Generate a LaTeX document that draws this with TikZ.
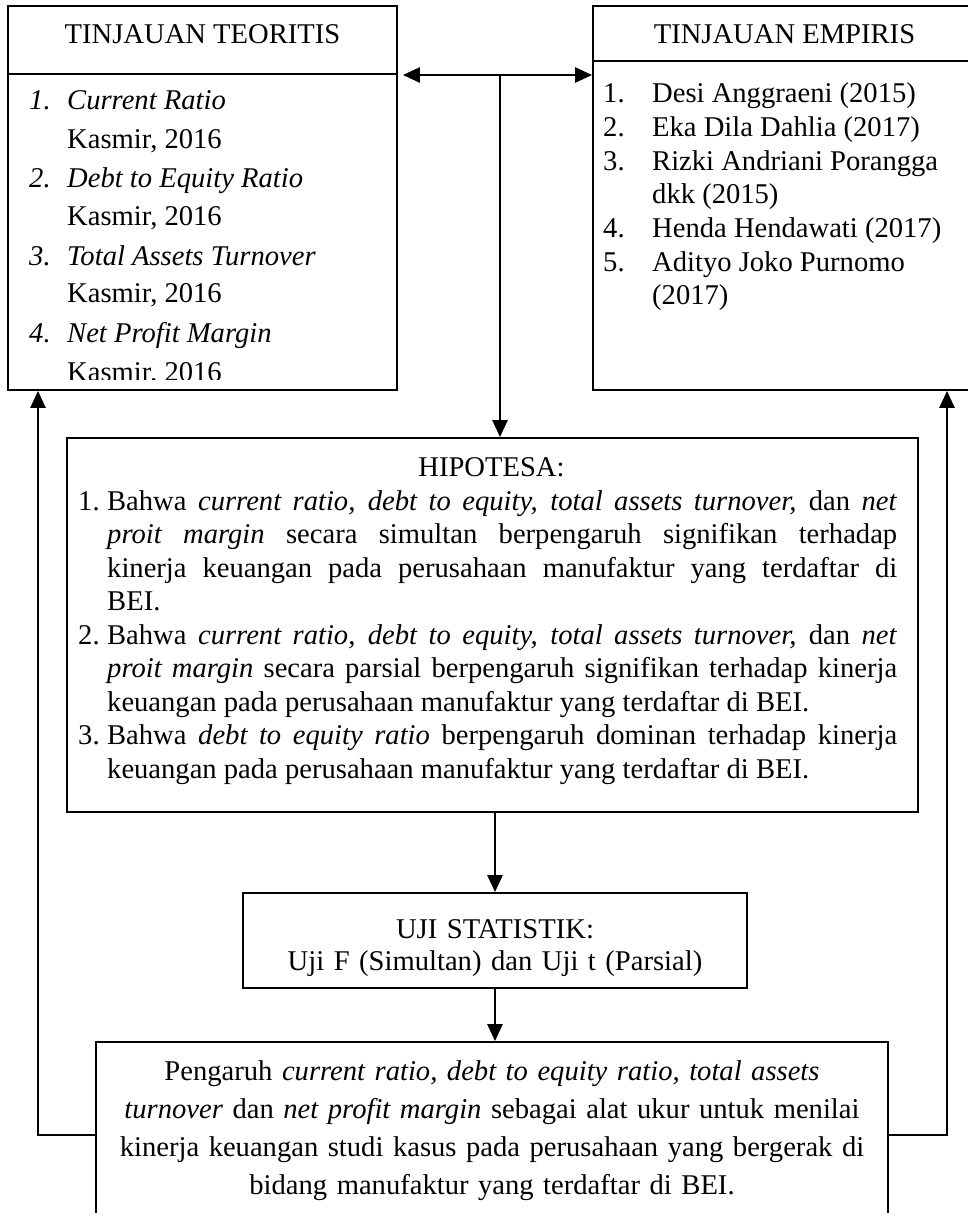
\documentclass[tikz,border=0pt]{standalone}
\usepackage{fontspec}
\setmainfont{Liberation Serif}
\usetikzlibrary{arrows.meta}
\begin{document}
\begin{tikzpicture}[x=1pt,y=-1pt,
  box/.style={draw, line width=1.8pt, inner sep=0pt},
  divider/.style={line width=1.8pt},
  conn/.style={line width=2.6pt, -{Triangle[length=17pt,width=15pt]}},
  conntwo/.style={line width=2.6pt, {Triangle[length=17pt,width=15pt]}-{Triangle[length=17pt,width=15pt]}},
  txt/.style={inner sep=0pt, font=\fontsize{28.6}{33.5}\selectfont},
  lst/.style={txt, anchor=base west}
]
\useasboundingbox[fill=white] (0,0) rectangle (967,1213);

% boxes
\node[box, minimum width=389pt, minimum height=384pt] (teo) at (202.5,198) {};
\node[box, minimum width=382pt, minimum height=384pt] (emp) at (784,198) {};
\node[box, minimum width=851pt, minimum height=374pt] (hip) at (492.5,625) {};
\node[box, minimum width=504pt, minimum height=95pt] (uji) at (495,940.5) {};
\node[box, minimum width=792pt, minimum height=183pt] (res) at (492,1133.5) {};

% header dividers
\coordinate (tdiv) at (0,74);
\coordinate (ediv) at (0,61);
\draw[divider] (teo.west |- tdiv) -- (teo.east |- tdiv);
\draw[divider] (emp.west |- ediv) -- (emp.east |- ediv);

% titles
\node[txt, anchor=base] (teoT) at (202.5,43) {TINJAUAN TEORITIS};
\node[txt, anchor=base] (empT) at (784.5,43) {TINJAUAN EMPIRIS};

% teoritis list (last line clipped by the box)
\begin{scope}
\clip (0,76) rectangle (967,379);
\node[lst] (tn1) at (29,109) {\itshape 1.};
\node[lst] (tl1) at (67,109) {\itshape Current Ratio};
\node[lst] (tk1) at (67,148) {Kasmir, 2016};
\node[lst] (tn2) at (29,187) {\itshape 2.};
\node[lst] (tl2) at (67,187) {\itshape Debt to Equity Ratio};
\node[lst] (tk2) at (67,225) {Kasmir, 2016};
\node[lst] (tn3) at (29,265) {\itshape 3.};
\node[lst] (tl3) at (67,265) {\itshape Total Assets Turnover};
\node[lst] (tk3) at (67,302) {Kasmir, 2016};
\node[lst] (tn4) at (29,342) {\itshape 4.};
\node[lst] (tl4) at (67,342) {\itshape Net Profit Margin};
\node[lst] (tk4) at (67,381) {Kasmir, 2016};
\end{scope}

% empiris list
\node[lst] (en1) at (603,102.7) {1.};
\node[lst] (el1) at (652,102.7) {Desi Anggraeni (2015)};
\node[lst] (en2) at (603,136.4) {2.};
\node[lst] (el2) at (652,136.4) {Eka Dila Dahlia (2017)};
\node[lst] (en3) at (603,170.1) {3.};
\node[lst] (el3) at (652,170.1) {Rizki Andriani Porangga};
\node[lst] (el3b) at (652,203.8) {dkk (2015)};
\node[lst] (en4) at (603,237.5) {4.};
\node[lst] (el4) at (652,237.5) {Henda Hendawati (2017)};
\node[lst] (en5) at (603,271.2) {5.};
\node[lst] (el5) at (652,271.2) {Adityo Joko Purnomo};
\node[lst] (el5b) at (652,304.9) {(2017)};

% hipotesa
\node[txt, anchor=base] (hipT) at (491.5,476) {HIPOTESA:};
\node[txt, anchor=base west, text width=819pt, align=justify] (hipB) at (78,510) {%
\hangindent=29pt\hangafter=1\noindent\makebox[29pt][l]{1.}Bahwa \textit{current ratio, debt to equity, total assets turnover,} dan \textit{net}\linebreak
\textit{proit margin} secara simultan berpengaruh signifikan terhadap\linebreak
kinerja keuangan pada perusahaan manufaktur yang terdaftar di\linebreak
BEI.\par
\hangindent=29pt\hangafter=1\noindent\makebox[29pt][l]{2.}Bahwa \textit{current ratio, debt to equity, total assets turnover,} dan \textit{net}\linebreak
\textit{proit margin} secara parsial berpengaruh signifikan terhadap kinerja\linebreak
keuangan pada perusahaan manufaktur yang terdaftar di BEI.\par
\hangindent=29pt\hangafter=1\noindent\makebox[29pt][l]{3.}Bahwa \textit{debt to equity ratio} berpengaruh dominan terhadap kinerja\linebreak
keuangan pada perusahaan manufaktur yang terdaftar di BEI.\par};

% uji statistik
\node[txt, anchor=base, text width=480pt, align=center, font=\fontsize{28.6}{32.5}\selectfont] (ujiT) at (495,938) {UJI STATISTIK:\\ Uji F (Simultan) dan Uji t (Parsial)};

% result
\node[txt, anchor=base, text width=780pt, align=center, font=\fontsize{28.6}{38.2}\selectfont] (resT) at (492,1080) {Pengaruh \textit{current ratio, debt to equity ratio, total assets}\\ \textit{turnover} dan \textit{net profit margin} sebagai alat ukur untuk menilai\\ kinerja keuangan studi kasus pada perusahaan yang bergerak di\\ bidang manufaktur yang terdaftar di BEI.};

% connectors
\coordinate (topmid) at (500,75);
\draw[conntwo] ([xshift=5pt]teo.east |- topmid) -- (emp.west |- topmid);
\draw[conn] (topmid) -- (hip.north -| topmid);
\draw[conn] (uji.north |- hip.south) -- (uji.north);
\draw[conn] (uji.south) -- (uji.south |- res.north);
\coordinate (lc) at (38,1135);
\coordinate (rc) at (947,1135);
\draw[conn] (res.west |- lc) -- (lc) -- (lc |- teo.south);
\draw[conn] (res.east |- rc) -- (rc) -- (rc |- emp.south);
\end{tikzpicture}
\end{document}
